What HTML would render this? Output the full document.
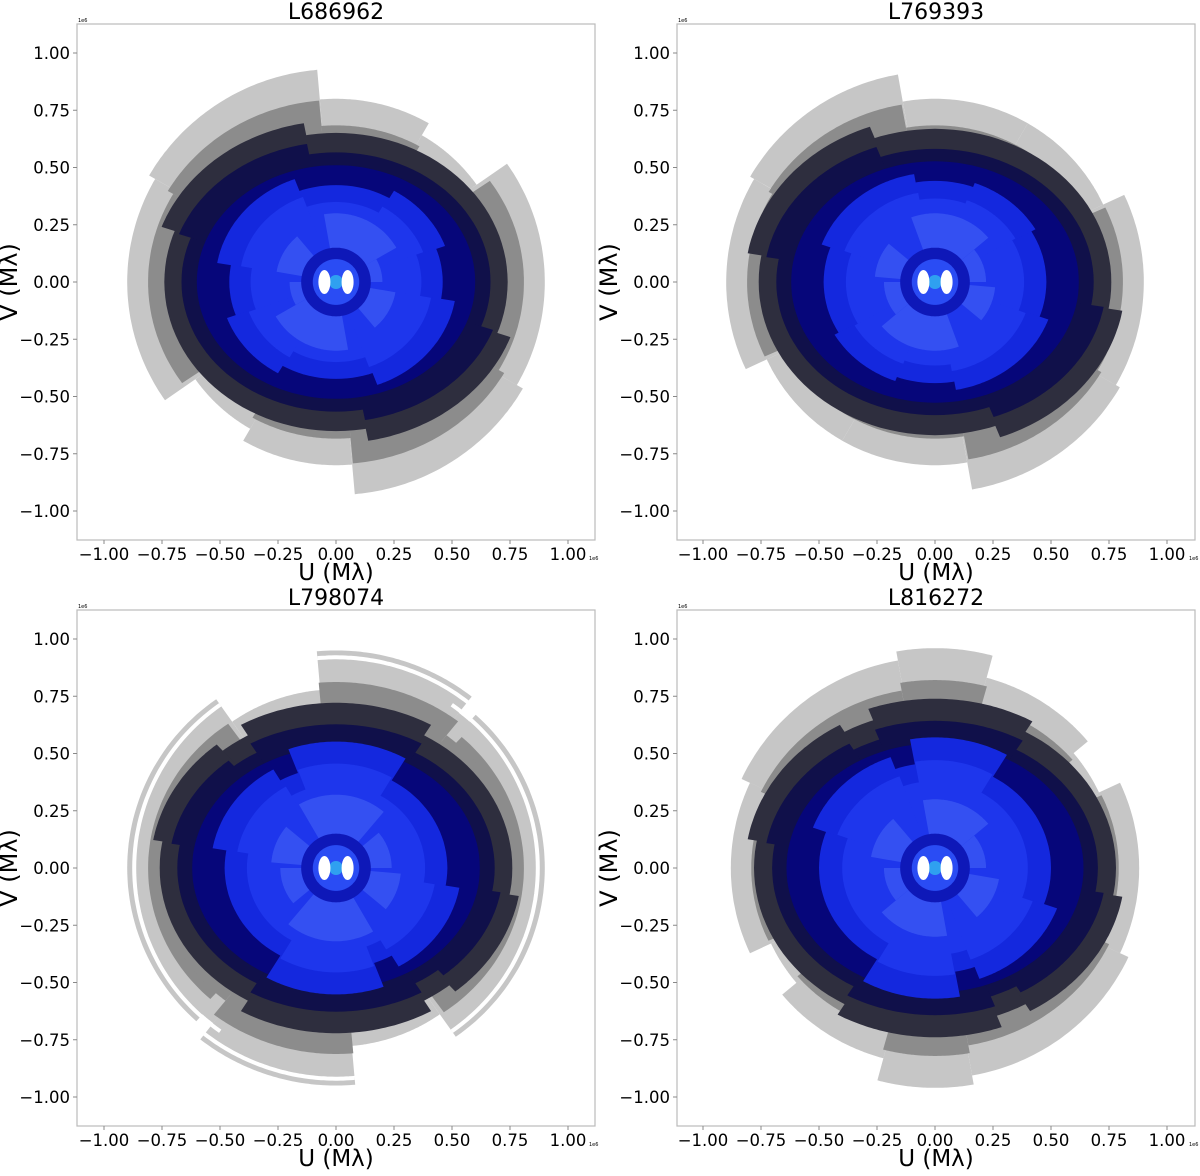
<!DOCTYPE html>
<html><head><meta charset="utf-8"><style>
html,body{margin:0;padding:0;background:#fff;}
svg text{font-family:"DejaVu Sans","Liberation Sans",sans-serif;fill:#000;}
</style></head><body>
<svg id="fig" width="1200" height="1171" viewBox="0 0 1200 1171" xmlns="http://www.w3.org/2000/svg"></svg>
<script>
const titles = ["L686962","L769393","L798074","L816272"];
const ticks = [-1.00,-0.75,-0.50,-0.25,0.00,0.25,0.50,0.75,1.00];
// pale outer wedges per panel: [startDeg, endDeg, radius]  (mirrored by +180)
const paleWedges = [
 [[95,150,0.93],[150,215,0.90],[215,238,0.72],[60,95,0.80],[35,60,0.74]],
 [[100,150,0.92],[150,205,0.90],[205,232,0.80],[60,100,0.80],[28,60,0.80]],
 [[52,95,0.95],[95,125,0.78],[125,228,0.90],[228,250,0.82],[30,52,0.86]],
 [[75,100,0.96],[100,155,0.92],[155,205,0.88],[40,75,0.86],[205,232,0.78]]
];
// dark band per panel: [startDeg, endDeg, radius]
const darkWedges = [
 [[0,180,0.74],[100,160,0.80]],
 [[0,180,0.76],[110,170,0.82]],
 [[0,180,0.76],[60,120,0.82],[130,170,0.80]],
 [[0,180,0.78],[60,110,0.84],[120,170,0.82]]
];
const navyR = [0.60,0.62,0.62,0.64];
// blue sectors per panel: [startDeg, endDeg, radius]
const blueWedges = [
 [[0,180,0.46],[110,170,0.52],[20,60,0.50]],
 [[0,180,0.48],[100,160,0.52],[30,70,0.50]],
 [[0,180,0.48],[60,110,0.60],[120,170,0.54]],
 [[0,180,0.50],[60,100,0.62],[110,160,0.56]]
];
// lighter inner sectors: [startDeg, endDeg, radius]
const lightWedges = [
 [[30,100,0.30],[130,170,0.26],[0,30,0.20]],
 [[40,110,0.30],[140,175,0.26],[0,40,0.22]],
 [[50,120,0.32],[140,175,0.28],[0,40,0.24]],
 [[40,100,0.30],[130,170,0.28],[0,40,0.22]]
];
const whiteRing = [null,null,[[125,235,0.87],[50,95,0.92]],null];

const panels = [
 {l:77,t:24,r:595,b:540,cx:336,cy:282},
 {l:677,t:24,r:1195,b:540,cx:935,cy:282},
 {l:77,t:610,r:595,b:1126,cx:336,cy:868},
 {l:677,t:610,r:1195,b:1126,cx:935,cy:868}
];
const NS="http://www.w3.org/2000/svg";
const svg=document.getElementById('fig');
function mk(tag,attrs,parent){const e=document.createElementNS(NS,tag);for(const k in attrs)e.setAttribute(k,attrs[k]);(parent||svg).appendChild(e);return e;}
function sector(p,a0,a1,r,fill,g,name,sq){
  const sx=232, sy=229*(sq||1);
  const pts=[];
  const step=(a1-a0)/60;
  for(let i=0;i<=60;i++){const a=(a0+i*step)*Math.PI/180;pts.push([p.cx+r*Math.cos(a)*sx,p.cy-r*Math.sin(a)*sy]);}
  let d='M'+p.cx+','+p.cy+' '+pts.map(q=>'L'+q[0].toFixed(1)+','+q[1].toFixed(1)).join(' ')+'Z';
  const e=mk('path',{d:d,fill:fill},g);
  
  
}
function arcStroke(p,a0,a1,r,g){
  const sx=232,sy=229;const pts=[];
  for(let i=0;i<=60;i++){const a=(a0+i*(a1-a0)/60)*Math.PI/180;pts.push((p.cx+r*Math.cos(a)*sx).toFixed(1)+','+(p.cy-r*Math.sin(a)*sy).toFixed(1));}
  const e=mk('polyline',{points:pts.join(' '),fill:'none',stroke:'#fff','stroke-width':4},g);
  
  
}
panels.forEach((p,i)=>{
  const g=mk('g',{});
  
  
  const sx=232, sy=229;
  const X=v=>p.cx+v*sx, Y=v=>p.cy-v*sy;
  const both=(list,fill,name,sq)=>list.forEach(w=>{sector(p,w[0],w[1],w[2],fill,g,name,sq);sector(p,w[0]+180,w[1]+180,w[2],fill,g,name,sq);});
  both(paleWedges[i],'#c6c6c6','pale-wedge');
  both(paleWedges[i].map(w=>[w[0],w[1],w[2]*0.9]),'#8c8c8c','mid-wedge',0.95);
  if(whiteRing[i]) whiteRing[i].forEach(w=>{arcStroke(p,w[0],w[1],w[2],g);arcStroke(p,w[0]+180,w[1]+180,w[2],g);});
  both(darkWedges[i],'#2e2e3e','dark-band',0.88);
  both(darkWedges[i].map(w=>[w[0],w[1],w[2]*0.9]),'#10104a','dark-navy-band',0.85);
  both([[0,180,navyR[i]]],'#06067a','navy-disk',0.85);
  both(blueWedges[i],'#1428de','blue-sector',0.92);
  both(blueWedges[i].map(w=>[w[0],w[1],w[2]*0.8]),'#1e36ec','blue-sector-inner',0.95);
  both(lightWedges[i],'#3450f2','light-sector');
  both([[0,180,0.15]],'#0e18b8','inner-ring');
  both([[0,180,0.10]],'#2a4cf4','inner-disk');
  const c=mk('circle',{cx:X(0),cy:Y(0),r:7,fill:'#2fa0f0'},g);
  
  [[-0.05,-8],[0.05,8]].forEach(b=>{const e=mk('ellipse',{cx:X(b[0]),cy:Y(0),rx:6,ry:12,fill:'#fff'},g);
    });
  const fr=mk('rect',{x:p.l,y:p.t,width:p.r-p.l,height:p.b-p.t,fill:'none',stroke:'#bbb','stroke-width':1.2},g);
  
  ticks.forEach(v=>{
    mk('line',{x1:X(v),x2:X(v),y1:p.b,y2:p.b+4,stroke:'#888'},g);
    const tx=mk('text',{x:X(v),y:p.b+20,'font-size':16.5,'text-anchor':'middle'},g);
    tx.textContent=(v<0?'\u2212':'')+Math.abs(v).toFixed(2);
    
    mk('line',{x1:p.l-4,x2:p.l,y1:Y(v),y2:Y(v),stroke:'#888'},g);
    const ty=mk('text',{x:p.l-7,y:Y(v)+6,'font-size':16.5,'text-anchor':'end'},g);
    ty.textContent=(v<0?'\u2212':'')+Math.abs(v).toFixed(2);
    
  });
  const tt=mk('text',{x:(p.l+p.r)/2,y:p.t-5,'font-size':22,'text-anchor':'middle'},g);
  tt.textContent=titles[i];
  const xl=mk('text',{x:(p.l+p.r)/2,y:p.b+40,'font-size':23,'text-anchor':'middle'},g);
  xl.textContent='U (M\u03bb)';
  const yl=mk('text',{x:0,y:0,'font-size':24,'text-anchor':'middle',transform:'translate('+(p.l-60)+','+((p.t+p.b)/2)+') rotate(-90)'},g);
  yl.textContent='V (M\u03bb)';
  const e1=mk('text',{x:p.l+1,y:p.t-2,'font-size':5},g);e1.textContent='1e6';
  
  const e2=mk('text',{x:p.r-6,y:p.b+20,'font-size':5},g);e2.textContent='1e6';
  
});
</script>
</body></html>
